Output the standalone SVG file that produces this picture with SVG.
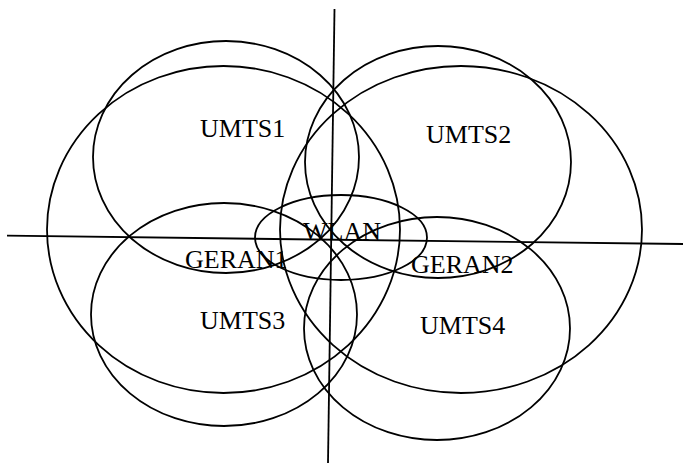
<svg xmlns="http://www.w3.org/2000/svg" width="683" height="463" viewBox="0 0 683 463">
<style>
.c{fill:none;stroke:#000;stroke-width:1.8}
.l{stroke:#000;stroke-width:1.8}
text{font-family:"Liberation Serif","Times New Roman",serif;font-size:26px;fill:#000}
</style>
<rect width="683" height="463" fill="#fff"/>
<g id="UMTS1"><ellipse class="c" cx="226" cy="157" rx="133" ry="116"/><text x="200" y="137">UMTS1</text></g>
<g id="UMTS2"><ellipse class="c" cx="438" cy="162" rx="133" ry="116"/><text x="426" y="143">UMTS2</text></g>
<g id="UMTS3"><ellipse class="c" cx="224" cy="314.5" rx="133" ry="111.5"/><text x="200" y="329">UMTS3</text></g>
<g id="UMTS4"><ellipse class="c" cx="437" cy="328.5" rx="133" ry="111.5"/><text x="420" y="334">UMTS4</text></g>
<g id="GERAN1"><ellipse class="c" cx="223.5" cy="229.5" rx="176.5" ry="163.5"/><text x="185" y="268">GERAN1</text></g>
<g id="GERAN2"><ellipse class="c" cx="461" cy="229.5" rx="181" ry="163.5"/><text x="411" y="273">GERAN2</text></g>
<g id="WLAN"><ellipse class="c" cx="341" cy="237.5" rx="86" ry="42.5"/><text x="303" y="240">WLAN</text></g>
<g id="connectors">
<line class="l" x1="7" y1="235.7" x2="683" y2="244"/>
<line class="l" x1="334.5" y1="9" x2="328" y2="463"/>
</g>
</svg>
